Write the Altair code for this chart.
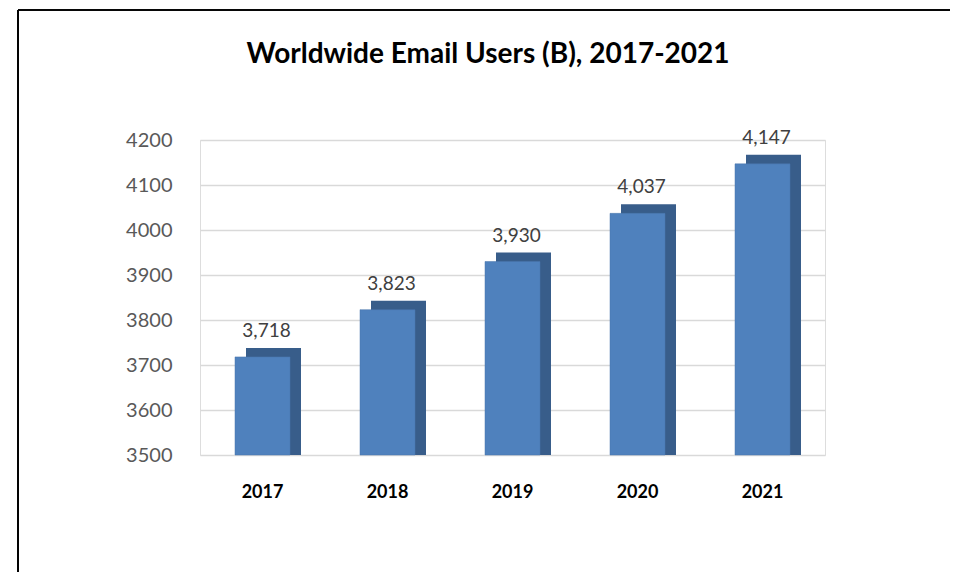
import altair as alt
import pandas as pd

years = ["2017", "2018", "2019", "2020", "2021"]
users = [3718, 3823, 3930, 4037, 4147]
y_ticks = [3500, 3600, 3700, 3800, 3900, 4000, 4100, 4200]
title_text = "Worldwide Email Users (B), 2017-2021"

df = pd.DataFrame({"year": years, "users": users})

FONT = "Lato"
W, H = 625, 315

x_enc = alt.X("year:N", sort=years, title=None,
              scale=alt.Scale(paddingInner=0.56, paddingOuter=0.28),
              axis=alt.Axis(labelAngle=0, labelFont=FONT, labelFontSize=18,
                            labelFontWeight="bold", labelColor="black",
                            labelPadding=28, domain=False, ticks=False))
y_enc = alt.Y("users:Q", title=None,
              scale=alt.Scale(domain=[3500, 4200], clamp=True),
              axis=alt.Axis(values=y_ticks, format="d", labelFont=FONT, labelFontSize=20,
                            labelColor="#595959", labelPadding=28,
                            domain=False, ticks=False, gridColor="#d9d9d9",
                            gridWidth=1.5))

base = alt.Chart(df)

side = base.mark_bar(color="#385d8a", xOffset=11, yOffset=-9).encode(
    x=x_enc, y=y_enc, y2=alt.datum(3500))
front = base.mark_bar(color="#4f81bd", stroke="#4a76ad", strokeWidth=0.5).encode(
    x=x_enc, y=y_enc, y2=alt.datum(3500))
labels = base.mark_text(dy=-26, dx=4, font=FONT, fontSize=19, color="#404040").encode(
    x=x_enc, y=y_enc, text=alt.Text("users:Q", format=","))

frame_left = alt.Chart(df).mark_rule(stroke="black", strokeWidth=1.2).encode(
    x=alt.value(-182), y=alt.value(-130), y2=alt.value(460))
frame_top = alt.Chart(df).mark_rule(stroke="black", strokeWidth=1.2).encode(
    x=alt.value(-182), x2=alt.value(770), y=alt.value(-130))

title = alt.Chart(pd.DataFrame({"t": [title_text]})).mark_text(
    font=FONT, fontSize=28, fontWeight="bold", color="black", baseline="middle"
).encode(x=alt.value(288), y=alt.value(-85), text="t:N")

chart = alt.layer(frame_left, frame_top, side, front, labels, title).properties(
    width=W, height=H,
    autosize=alt.AutoSizeParams(type="none"),
    padding={"left": 192, "top": 132, "right": 125, "bottom": 117},
).configure_view(stroke=None).configure(background="white")

chart.save("out.html", embed_options={"renderer": "svg", "actions": False})
